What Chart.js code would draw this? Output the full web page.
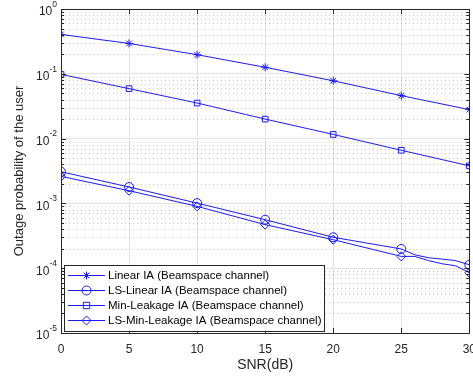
<!DOCTYPE html>
<html>
<head>
<meta charset="utf-8">
<script src="https://cdn.jsdelivr.net/npm/chart.js@4.4.0/dist/chart.umd.min.js"></script>
<style>
  html, body { margin: 0; padding: 0; background: #fff; overflow: hidden; }
  #wrap { width: 485px; height: 379px; }
</style>
</head>
<body>
<div id="wrap"><canvas id="outageChart" width="485" height="379"></canvas></div>
<script>
// data
var snr = [0, 5, 10, 15, 20, 25, 30];
var snrFine = [0, 5, 10, 15, 20, 25, 26, 27, 28, 29, 30];
var linearIA = [0.405, 0.294, 0.197, 0.126, 0.078, 0.046, 0.028];
var minLeakIA = [0.098, 0.059, 0.0354, 0.020, 0.0116, 0.0066, 0.0038];
var lsLinearIA = [3.08e-3, 1.79e-3, 1.01e-3, 5.6e-4, 3.0e-4, 1.98e-4, 1.61e-4, 1.45e-4, 1.38e-4, 1.31e-4, 1.13e-4];
var lsMinLeakIA = [2.61e-3, 1.57e-3, 9.0e-4, 4.7e-4, 2.75e-4, 1.52e-4, 1.52e-4, 1.31e-4, 1.17e-4, 1.09e-4, 8.5e-5];
var labels = ["Linear IA (Beamspace channel)", "LS-Linear IA (Beamspace channel)",
              "Min-Leakage IA (Beamspace channel)", "LS-Min-Leakage IA (Beamspace channel)"];
var yTicks = [1e-5, 1e-4, 1e-3, 1e-2, 1e-1, 1];
var yTickExp = ["-5", "-4", "-3", "-2", "-1", "0"];

var blue = "#1a1aff";
var txt = "#262626";
var fam = "'Liberation Sans', Arial, sans-serif";

function pts(xs, ys) {
  return ys.map(function (v, i) { return { x: xs[i], y: v }; });
}
function markerRadius(r) {
  return function (c) { return (c.raw && c.raw.x % 5 === 0) ? r : 0; };
}
function ds(label, data, style, r) {
  return {
    label: label, data: data,
    borderColor: blue, backgroundColor: "rgba(0,0,0,0)",
    borderWidth: 1, pointStyle: style,
    pointRadius: markerRadius(r), pointBorderColor: blue, pointBorderWidth: 1,
    pointBackgroundColor: "rgba(0,0,0,0)", tension: 0
  };
}

// minor grid, box, inward ticks, y tick labels with exponents, legend
var matlabAxes = {
  id: "matlabAxes",
  beforeDatasetsDraw: function (chart) {
    var c = chart.ctx, a = chart.chartArea, ys = chart.scales.y;
    c.save();
    c.strokeStyle = "rgba(0,0,0,0.22)";
    c.lineWidth = 1;
    c.setLineDash([1, 3]);
    for (var e = -5; e < 0; e++) {
      for (var m = 2; m <= 9; m++) {
        var py = Math.round(ys.getPixelForValue(m * Math.pow(10, e))) + 0.5;
        c.beginPath(); c.moveTo(a.left, py); c.lineTo(a.right, py); c.stroke();
      }
    }
    c.restore();
  },
  afterDatasetsDraw: function (chart) {
    var c = chart.ctx, a = chart.chartArea, ys = chart.scales.y, xs = chart.scales.x;
    c.save();
    c.strokeStyle = txt;
    c.lineWidth = 1;
    c.beginPath();
    c.rect(Math.round(a.left) + 0.5, Math.round(a.top) + 0.5,
           Math.round(a.right - a.left), Math.round(a.bottom - a.top));
    c.stroke();
    c.beginPath();
    for (var e = -5; e <= 0; e++) {
      for (var m = 1; m <= 9; m++) {
        var v = m * Math.pow(10, e);
        if (v > 1) break;
        var py = Math.round(ys.getPixelForValue(v)) + 0.5;
        var len = m === 1 ? 5 : 3;
        c.moveTo(a.left, py); c.lineTo(a.left + len, py);
        c.moveTo(a.right, py); c.lineTo(a.right - len, py);
      }
    }
    snr.forEach(function (s) {
      var px = Math.round(xs.getPixelForValue(s)) + 0.5;
      c.moveTo(px, a.bottom); c.lineTo(px, a.bottom - 5);
      c.moveTo(px, a.top); c.lineTo(px, a.top + 5);
    });
    c.stroke();

    // y tick labels: "10" with raised exponent
    c.fillStyle = txt;
    c.textBaseline = "middle";
    yTicks.forEach(function (v, i) {
      var py = ys.getPixelForValue(v);
      c.font = "8.5px " + fam;
      c.textAlign = "left";
      var ew = c.measureText(yTickExp[i]).width;
      var ex = a.left - 4 - ew;
      c.fillText(yTickExp[i], ex, py - 4.5);
      c.font = "12px " + fam;
      c.textAlign = "right";
      c.fillText("10", ex, py + 3);
    });
    c.restore();
  },
  afterDraw: function (chart) {
    var c = chart.ctx, a = chart.chartArea;
    var bx = a.left + 3, by = 265, bw = 260, bh = a.bottom - 2 - by;
    c.save();
    c.fillStyle = "#fff";
    c.fillRect(bx, by, bw, bh);
    c.strokeStyle = txt;
    c.lineWidth = 1;
    c.strokeRect(Math.round(bx) + 0.5, by + 0.5, bw, bh);
    c.font = "11.5px " + fam;
    c.textBaseline = "middle";
    chart.data.datasets.forEach(function (d, k) {
      var yy = by + 10.5 + k * 15;
      c.strokeStyle = blue;
      c.fillStyle = "rgba(0,0,0,0)";
      c.beginPath(); c.moveTo(bx + 4, yy); c.lineTo(bx + 41, yy); c.stroke();
      Chart.helpers.drawPoint(c, {
        pointStyle: d.pointStyle, radius: d.pointStyle === "star" ? 4 : 4.5,
        rotation: 0, borderWidth: 1
      }, bx + 22.5, yy);
      c.fillStyle = "#000";
      c.fillText(d.label, bx + 44, yy + 0.5);
    });
    c.restore();
  }
};

var ctx = document.getElementById("outageChart").getContext("2d");
var chart = new Chart(ctx, {
  type: "line",
  data: {
    datasets: [
      ds(labels[0], pts(snr, linearIA), "star", 4),
      ds(labels[1], pts(snrFine, lsLinearIA), "circle", 4.5),
      ds(labels[2], pts(snr, minLeakIA), "rect", 4),
      ds(labels[3], pts(snrFine, lsMinLeakIA), "rectRot", 4.5)
    ]
  },
  options: {
    responsive: false,
    animation: false,
    layout: { padding: { top: 9, left: 0, right: 0, bottom: 0 } },
    plugins: { legend: { display: false }, tooltip: { enabled: false } },
    scales: {
      x: {
        type: "linear", min: 0, max: 30,
        afterFit: function (s) { s.height = 46; },
        ticks: { stepSize: 5, color: txt, font: { family: fam, size: 12 }, padding: 9 },
        grid: { color: "#e3e3e3", drawTicks: false },
        border: { display: false },
        title: { display: true, text: "SNR(dB)", color: txt, font: { family: fam, size: 14 }, padding: { top: 0, bottom: 5.5 } }
      },
      y: {
        type: "logarithmic", min: 1e-5, max: 1,
        afterFit: function (s) { s.width = 61; },
        afterBuildTicks: function (s) { s.ticks = yTicks.map(function (v) { return { value: v }; }); },
        ticks: { display: false },
        grid: { color: "#e3e3e3", drawTicks: false },
        border: { display: false },
        title: { display: true, text: "Outage probability of the user", color: txt, font: { family: fam, size: 13 }, padding: { top: 12, bottom: 0 } }
      }
    }
  },
  plugins: [matlabAxes]
});
</script>
</body>
</html>
